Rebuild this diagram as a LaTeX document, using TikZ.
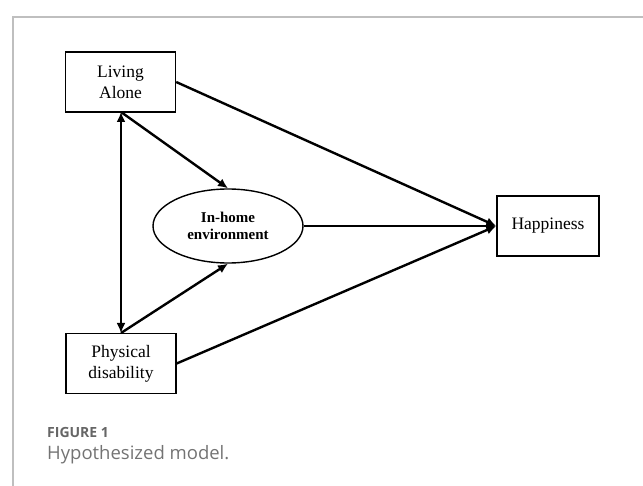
\documentclass[tikz,border=0pt]{standalone}
\usepackage{fontspec}
\setmainfont{Liberation Serif}
\newfontfamily\capfont{Open Sans}
\usetikzlibrary{arrows.meta,shapes.geometric}
\tikzset{every path/.style={black,line width=2.4pt}, varbox/.style={draw,line width=1.4pt,rectangle,minimum width=110pt,minimum height=60pt,align=center,font=\fontsize{17.5}{21}\selectfont}, mediator/.style={draw,line width=1.4pt,ellipse,minimum width=150pt,minimum height=74pt,inner sep=0pt,align=center,font=\fontsize{15}{17}\selectfont\bfseries}, path arrow/.style={-{Latex[length=10pt,width=9pt]}}, both arrow/.style={{Latex[length=10pt,width=9pt]}-{Latex[length=10pt,width=9pt]}}}

\begin{document}
\begin{tikzpicture}[x=1pt,y=-1pt]
  \useasboundingbox (0,0) rectangle (643,486);
  \draw[line width=1.5pt,black!25] (643,17) -- (13,17) -- (13,486);
  \node[varbox] (alone) at (120.5, 82.0) {Living\\Alone};
  \node[varbox] (disab) at (121.0,363.5) {Physical\\disability};
  \node[mediator] (home) at (228.0,226.0) {In-home\\environment};
  \node[varbox,minimum width=102pt] (happy) at (548.0,226.0) {Happiness};
  \draw[both arrow] (121,112) -- (121,333);
  \draw[path arrow] (121,112) -- (home.north);
  \draw[path arrow] (121,333) -- (home.south);
  \draw[path arrow] (alone.east) -- (happy.west);
  \draw[path arrow] (home.east) -- (happy.west);
  \draw[path arrow] (disab.east) -- (happy.west);
  \node[anchor=west,inner sep=0pt,text=black!60,font=\capfont\fontsize{14}{16}\selectfont\bfseries] (fignum) at (46,432) {FIGURE 1};
  \node[anchor=west,inner sep=0pt,text=black!55,font=\capfont\fontsize{18.5}{20}\selectfont] (figcap) at (46,455) {Hypothesized model.};
\end{tikzpicture}
\end{document}
